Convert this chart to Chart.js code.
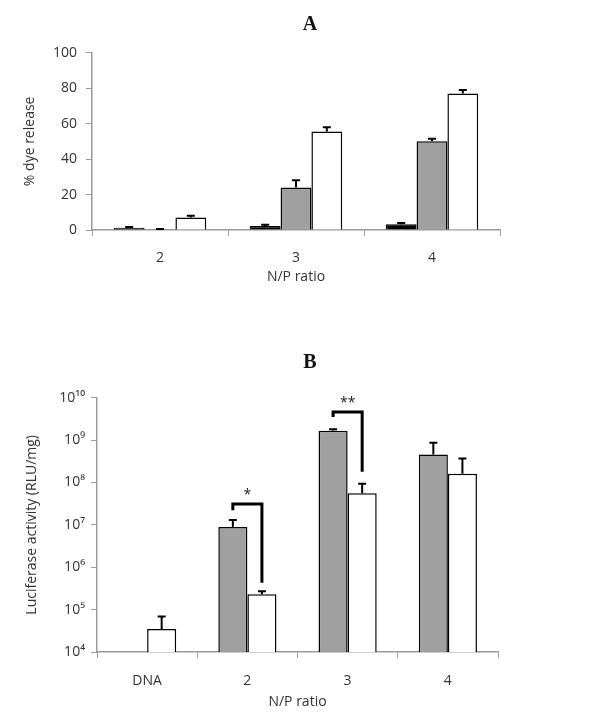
<!DOCTYPE html>
<html>
<head>
<meta charset="utf-8">
<script src="https://cdn.jsdelivr.net/npm/chart.js@4/dist/chart.umd.min.js"></script>
<style>
  body { margin: 0; background: #fff; }
  #wrapA { position: absolute; left: 0; top: 0; width: 600px; height: 300px; }
  #wrapB { position: absolute; left: 0; top: 320px; width: 600px; height: 393px; }
</style>
</head>
<body>
<div id="wrapA"><canvas id="chartA"></canvas></div>
<div id="wrapB"><canvas id="chartB"></canvas></div>
<script>
// Panel A - dye release
var ratiosA = ['2', '3', '4'];
var blackA = [1.3, 2.3, 3.2];
var blackErrA = [1.7, 2.9, 4];
var grayA = [0.3, 24, 50];
var grayErrA = [0.6, 28, 51.5];
var whiteA = [7, 55.5, 77];
var whiteErrA = [8, 58, 79];
var yTicksA = [0, 20, 40, 60, 80, 100];

// Panel B - luciferase activity
var ratiosB = ['DNA', '2', '3', '4'];
var grayB = [null, 8.9e6, 1.65e9, 4.6e8];
var grayErrB = [null, 1.3e7, 1.8e9, 8.7e8];
var whiteB = [3.5e4, 2.3e5, 5.6e7, 1.6e8];
var whiteErrB = [6.9e4, 2.7e5, 9.3e7, 3.7e8];
var yTicksB = [1e4, 1e5, 1e6, 1e7, 1e8, 1e9, 1e10];

// significance brackets (category index, top, left leg end, right leg end)
var bracketCats = [1, 2];
var bracketTops = [3.1e7, 4.6e9];
var bracketLeft = [2.2e7, 3.5e9];
var bracketRight = [4.3e5, 1.8e8];
var bracketLabels = ['*', '**'];

var tickFont = { family: 'Open Sans', size: 14 };
var textColor = '#333';
var axisColor = '#999';
var sup = '⁰¹²³⁴⁵⁶⁷⁸⁹';

function toSup(n) {
    return String(n).split('').map(function (d) { return sup[+d]; }).join('');
}

// panel letter, drawn off-centre like the original figure
function panelTitle(text, x, y) {
    return {
        id: 'panelTitle',
        afterDraw: function (chart) {
            var ctx = chart.ctx;
            ctx.save();
            ctx.fillStyle = '#111';
            ctx.font = 'bold 20px "Liberation Serif"';
            ctx.textAlign = 'center';
            ctx.textBaseline = 'middle';
            ctx.fillText(text, x, y);
            ctx.restore();
        }
    };
}

var errorBars = {
    id: 'errorBars',
    afterDatasetsDraw: function (chart) {
        var ctx = chart.ctx, y = chart.scales.y;
        chart.data.datasets.forEach(function (ds, i) {
            var meta = chart.getDatasetMeta(i);
            meta.data.forEach(function (bar, j) {
                var e = ds.errTop[j];
                if (e == null || ds.data[j] == null) return;
                var yTop = y.getPixelForValue(e);
                ctx.save();
                ctx.strokeStyle = '#000';
                ctx.lineWidth = 2;
                ctx.beginPath();
                ctx.moveTo(bar.x, bar.y);
                ctx.lineTo(bar.x, yTop);
                ctx.moveTo(bar.x - 4, yTop);
                ctx.lineTo(bar.x + 4, yTop);
                ctx.stroke();
                ctx.restore();
            });
        });
    }
};

var brackets = {
    id: 'brackets',
    afterDatasetsDraw: function (chart) {
        var ctx = chart.ctx, y = chart.scales.y;
        var g = chart.getDatasetMeta(0), w = chart.getDatasetMeta(1);
        bracketCats.forEach(function (c, k) {
            var x1 = g.data[c].x, x2 = w.data[c].x;
            var yt = y.getPixelForValue(bracketTops[k]);
            ctx.save();
            ctx.strokeStyle = '#000';
            ctx.lineWidth = 3;
            ctx.beginPath();
            ctx.moveTo(x1, y.getPixelForValue(bracketLeft[k]));
            ctx.lineTo(x1, yt);
            ctx.lineTo(x2, yt);
            ctx.lineTo(x2, y.getPixelForValue(bracketRight[k]));
            ctx.stroke();
            ctx.fillStyle = '#222';
            ctx.font = '14px "Open Sans"';
            ctx.textAlign = 'center';
            ctx.textBaseline = 'bottom';
            ctx.fillText(bracketLabels[k], (x1 + x2) / 2, yt - 2);
            ctx.restore();
        });
    }
};

function xAxis(tickPad, titlePad, h) {
    return {
        grid: { drawOnChartArea: false, tickLength: 6, color: axisColor },
        border: { color: axisColor, width: 1.5 },
        ticks: { font: tickFont, color: textColor, padding: tickPad },
        title: { display: true, text: 'N/P ratio', font: tickFont, color: textColor, padding: { top: 0, bottom: titlePad } },
        afterFit: function (s) { s.height = h; }
    };
}

function yAxisTitle(text, pad) {
    return { display: true, text: text, font: tickFont, color: textColor, padding: { top: pad, bottom: 0 } };
}

new Chart(document.getElementById('chartA'), {
    type: 'bar',
    data: {
        labels: ratiosA,
        datasets: [
            { data: blackA, errTop: blackErrA, backgroundColor: '#000', borderColor: '#000', borderWidth: 1.5 },
            { data: grayA, errTop: grayErrA, backgroundColor: '#a0a0a0', borderColor: '#000', borderWidth: 1.5 },
            { data: whiteA, errTop: whiteErrA, backgroundColor: '#fff', borderColor: '#000', borderWidth: 1.5 }
        ]
    },
    options: {
        responsive: true,
        maintainAspectRatio: false,
        animation: false,
        layout: { padding: { left: 0, right: 100, top: 52.7, bottom: 0 } },
        datasets: { bar: { categoryPercentage: 0.68, barPercentage: 1 } },
        plugins: {
            legend: { display: false },
            tooltip: { enabled: false }
        },
        scales: {
            x: xAxis(13.6, 14.6, 70),
            y: {
                min: 0, max: 100,
                afterBuildTicks: function (s) { s.ticks = yTicksA.map(function (v) { return { value: v }; }); },
                grid: { drawOnChartArea: false, tickLength: 6, color: axisColor },
                border: { color: axisColor, width: 1.5 },
                ticks: { font: tickFont, color: textColor, padding: 9 },
                title: yAxisTitle('% dye release', 21.6),
                afterFit: function (s) { s.width = 92; }
            }
        }
    },
    plugins: [errorBars, panelTitle('A', 310, 25)]
});

new Chart(document.getElementById('chartB'), {
    type: 'bar',
    data: {
        labels: ratiosB,
        datasets: [
            { data: grayB, errTop: grayErrB, backgroundColor: '#a0a0a0', borderColor: '#000', borderWidth: 1.5 },
            { data: whiteB, errTop: whiteErrB, backgroundColor: '#fff', borderColor: '#000', borderWidth: 1.5 }
        ]
    },
    options: {
        responsive: true,
        maintainAspectRatio: false,
        animation: false,
        layout: { padding: { left: 0, right: 102, top: 77.7, bottom: 0 } },
        datasets: { bar: { categoryPercentage: 0.58, barPercentage: 1 } },
        plugins: {
            legend: { display: false },
            tooltip: { enabled: false }
        },
        scales: {
            x: xAxis(14.3, 2.6, 61),
            y: {
                type: 'logarithmic',
                min: 1e4, max: 1e10,
                afterBuildTicks: function (s) { s.ticks = yTicksB.map(function (v) { return { value: v }; }); },
                grid: { drawOnChartArea: false, tickLength: 6, color: axisColor },
                border: { color: axisColor, width: 1.5 },
                ticks: {
                    font: tickFont, color: textColor, padding: 6,
                    callback: function (v) { return '10' + toSup(Math.round(Math.log10(v))); }
                },
                title: yAxisTitle('Luciferase activity (RLU/mg)', 23.6),
                afterFit: function (s) { s.width = 97; }
            }
        }
    },
    plugins: [errorBars, brackets, panelTitle('B', 310, 43)]
});
</script>
</body>
</html>
